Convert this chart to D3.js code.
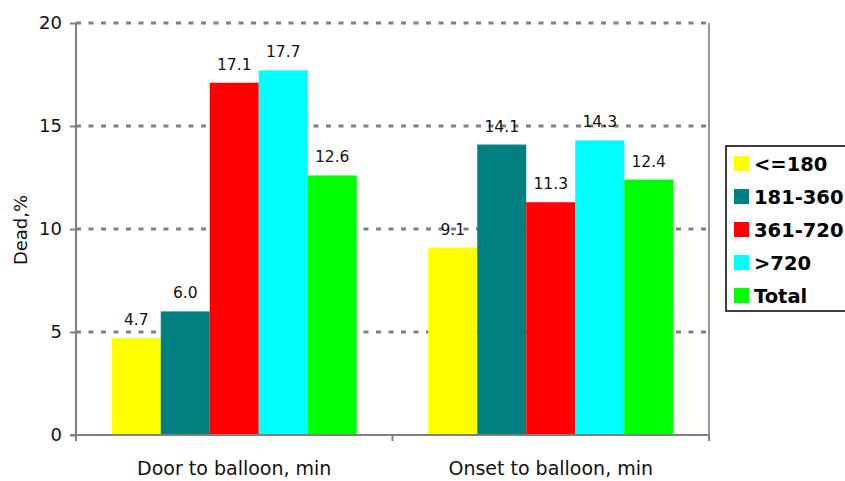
<!DOCTYPE html>
<html>
<head>
<meta charset="utf-8">
<script src="https://cdn.jsdelivr.net/npm/d3@7"></script>
<style>
  body { margin: 0; background: #fff; }
  svg { display: block; font-family: "DejaVu Sans", Verdana, sans-serif; }
</style>
</head>
<body>
<svg width="845" height="481"></svg>
<script>
const categories = ['Door to balloon, min', 'Onset to balloon, min']
const groups = ['<=180', '181-360', '361-720', '>720', 'Total']
const colors = ['#ffff00', '#008080', '#ff0000', '#00ffff', '#00ff00']
const doorValues = [4.7, 6.0, 17.1, 17.7, 12.6]
const onsetValues = [9.1, 14.1, 11.3, 14.3, 12.4]
const yTicks = [0, 5, 10, 15, 20]

const values = [doorValues, onsetValues]
const rows = []
categories.forEach((c, i) => {
  groups.forEach((g, j) => rows.push({ cat: c, group: g, value: values[i][j], color: colors[j] }))
})

const svg = d3.select('svg')
const margin = { left: 76, right: 136, top: 23, bottom: 46 }
const width = +svg.attr('width')
const height = +svg.attr('height')
const x0 = margin.left
const x1 = width - margin.right
const y0 = height - margin.bottom

const x = d3.scaleBand().domain(categories).range([x0, x1])
const xg = d3.scaleBand().domain(groups).range([0, x.bandwidth()]).paddingOuter(0.73)
const y = d3.scaleLinear().domain([0, 20]).range([y0, margin.top])

// grid
svg.append('g').selectAll('line').data(yTicks.filter(d => d > 0)).enter().append('line')
  .attr('x1', x0).attr('x2', x1)
  .attr('y1', d => y(d)).attr('y2', d => y(d))
  .attr('stroke', '#808080').attr('stroke-width', 3)
  .attr('stroke-dasharray', '5,7.5')

// right border
svg.append('line').attr('x1', x1).attr('x2', x1).attr('y1', y(20)).attr('y2', y0)
  .attr('stroke', '#999').attr('stroke-width', 2)

// bars
svg.append('g').selectAll('rect').data(rows).enter().append('rect')
  .attr('x', d => x(d.cat) + xg(d.group))
  .attr('width', xg.bandwidth())
  .attr('y', d => y(d.value))
  .attr('height', d => y0 - y(d.value))
  .attr('fill', d => d.color)

// value labels
svg.append('g').selectAll('text').data(rows).enter().append('text')
  .attr('x', d => x(d.cat) + xg(d.group) + xg.bandwidth() / 2)
  .attr('y', d => y(d.value) - 13)
  .attr('text-anchor', 'middle')
  .attr('font-size', 15.5)
  .attr('fill', '#111')
  .text(d => d.value.toFixed(1))

// y axis
const yAxis = svg.append('g').attr('transform', `translate(${x0},0)`)
  .call(d3.axisLeft(y).tickValues(yTicks).tickSize(6).tickPadding(8))
yAxis.select('.domain').remove()
yAxis.append('line').attr('x1', 0).attr('x2', 0).attr('y1', y(20)).attr('y2', y0 + 6)
  .attr('stroke', '#808080').attr('stroke-width', 2)
yAxis.selectAll('.tick line').attr('stroke', '#808080').attr('stroke-width', 2)
yAxis.selectAll('.tick text').attr('font-size', 18).attr('fill', '#111')
  .style('font-family', '"DejaVu Sans", Verdana, sans-serif')

// x axis
const xAxis = svg.append('g').attr('transform', `translate(0,${y0})`)
xAxis.append('line').attr('x1', x0 - 6).attr('x2', x1).attr('y1', 0).attr('y2', 0)
  .attr('stroke', '#808080').attr('stroke-width', 2)
const edges = [x0, x(categories[1]), x1]
xAxis.selectAll('.edge').data(edges).enter().append('line')
  .attr('x1', d => d).attr('x2', d => d).attr('y1', 0).attr('y2', 6)
  .attr('stroke', '#808080').attr('stroke-width', 2)
xAxis.selectAll('.lbl').data(categories).enter().append('text')
  .attr('x', d => x(d) + x.bandwidth() / 2)
  .attr('y', 40)
  .attr('text-anchor', 'middle')
  .attr('font-size', 19)
  .attr('fill', '#111')
  .text(d => d)

// y title
svg.append('text')
  .attr('transform', 'translate(27,230) rotate(-90)')
  .attr('text-anchor', 'middle')
  .attr('font-size', 18)
  .attr('fill', '#111')
  .text('Dead,%')

// legend
const legend = svg.append('g').attr('transform', 'translate(726,146)')
legend.append('rect').attr('x', 0).attr('y', 0).attr('width', 130).attr('height', 165)
  .attr('fill', '#fff').attr('stroke', '#000').attr('stroke-width', 1.5)
const item = legend.selectAll('.item').data(groups).enter().append('g')
  .attr('transform', (d, i) => `translate(0,${18 + i * 33})`)
item.append('rect').attr('x', 8).attr('y', -8).attr('width', 15).attr('height', 15)
  .attr('fill', (d, i) => colors[i])
item.append('text').attr('x', 28).attr('y', 7)
  .attr('font-size', 19.5).attr('font-weight', 'bold').attr('fill', '#000')
  .text(d => d)
</script>
</body>
</html>
